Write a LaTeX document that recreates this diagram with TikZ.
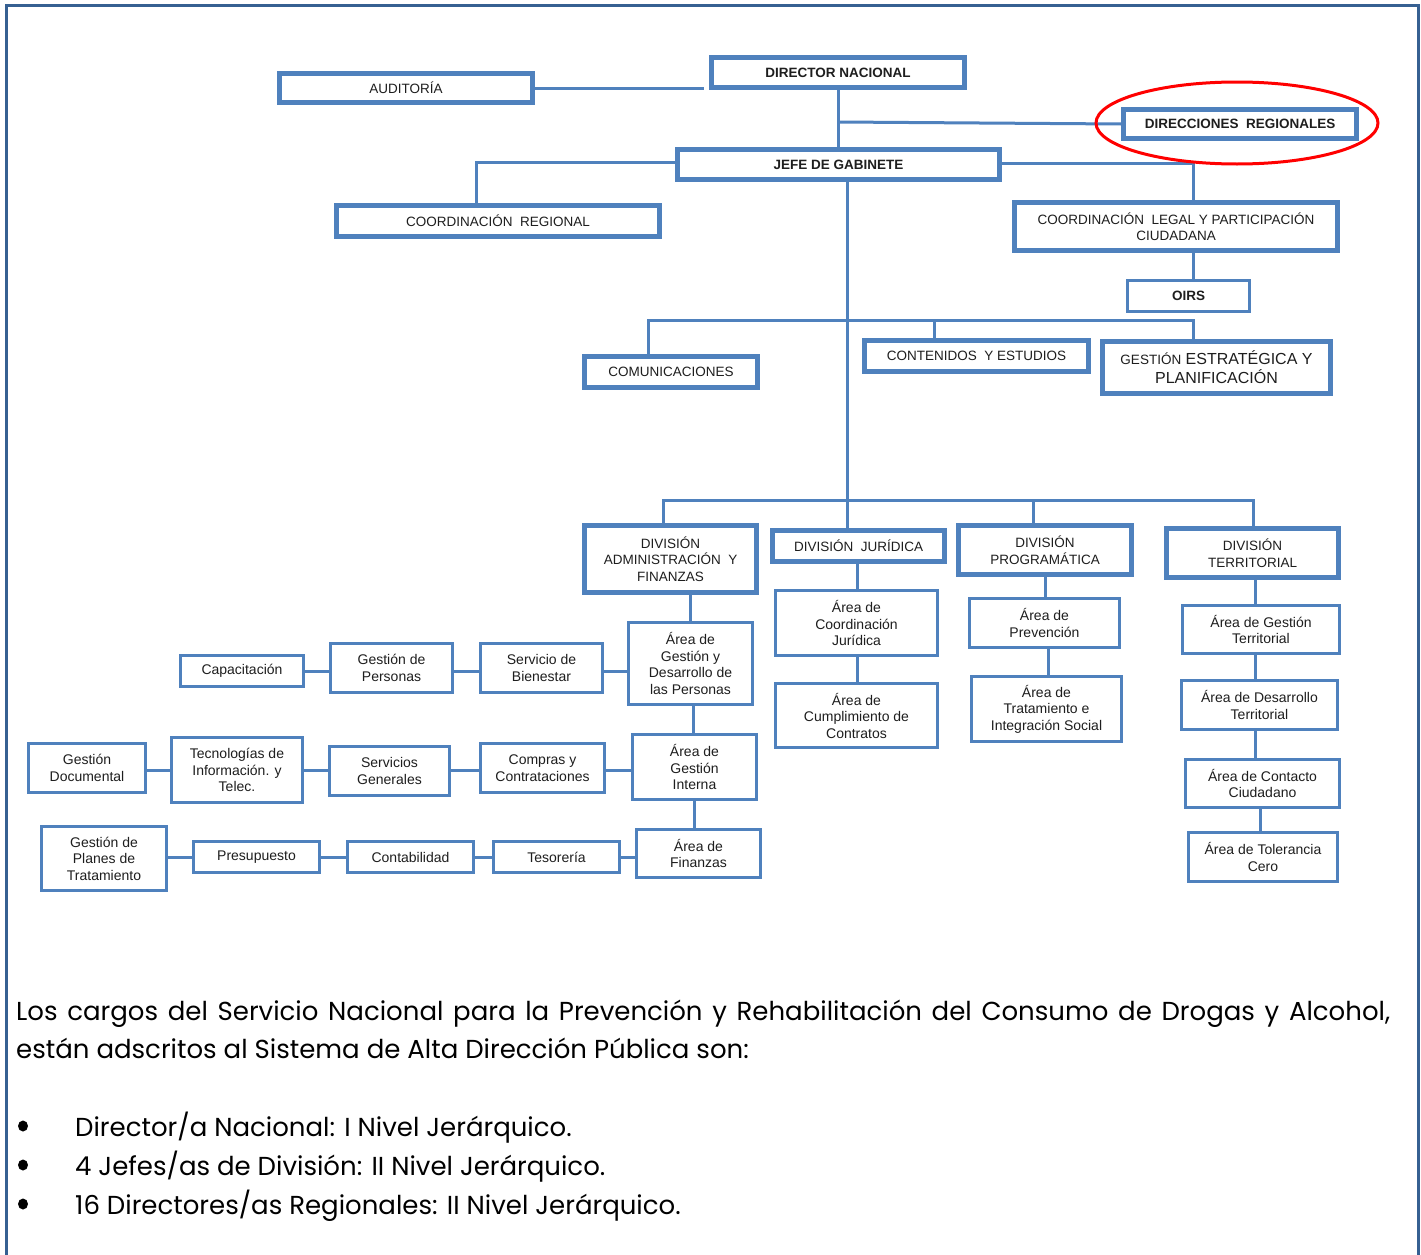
\documentclass[tikz,border=0pt]{standalone}
\usepackage{fontspec}
\setmainfont{Liberation Sans}
\newfontfamily\parafont{Poppins}
\definecolor{boxblue}{HTML}{4F81BD}
\definecolor{framecol}{HTML}{366092}
\definecolor{txt}{HTML}{1E1E1E}
\newcommand\obox[8]{%
  \node[#6, minimum width={(#4-#2-#8)*1pt}, minimum height={(#5-#3-#8)*1pt}] (#1) at ({(#2+#4)/2},{(#3+#5)/2}) {#7};}
\tikzset{
  basebox/.style={draw=boxblue, fill=white, inner sep=0pt, align=center, text=txt},
  tbox/.style={basebox, line width=5pt, font=\fontsize{13.5}{16.5}\selectfont},
  nbox/.style={basebox, line width=3pt, font=\fontsize{14}{16.5}\selectfont},
  bigfont/.style={font=\fontsize{16}{19}\selectfont},
  conn/.style={draw=boxblue, line width=3pt},
  partext/.style={anchor=base west, inner sep=0pt, text=black, font=\parafont\fontsize{26}{30}\selectfont},
}
\begin{document}
\begin{tikzpicture}[x=1pt,y=-1pt]
\useasboundingbox (0,0) rectangle (1421,1255);
\fill[white] (0,0) rectangle (1421,1255);
\draw[framecol, line width=3pt] (6.5,1255) -- (6.5,5.5) -- (1418.5,5.5) -- (1418.5,1255);

% top level
\obox{aud}{277}{71}{535}{105}{tbox}{AUDITORÍA}{5}
\obox{dir}{709}{55}{967}{90}{tbox}{\textbf{DIRECTOR NACIONAL}}{5}
\obox{dr}{1121}{107}{1359}{141}{tbox}{\textbf{DIRECCIONES\ \ REGIONALES}}{5}
\obox{jefe}{675}{147}{1002}{182}{tbox}{\textbf{JEFE DE GABINETE}}{5}
\obox{cr}{334}{203}{662}{239}{tbox}{COORDINACIÓN\ \ REGIONAL}{5}
\obox{cl}{1012}{200}{1340}{253}{tbox}{COORDINACIÓN\ \ LEGAL Y PARTICIPACIÓN\\CIUDADANA}{5}
\obox{oirs}{1126}{279}{1251}{313}{nbox}{\fontsize{13.5}{16.5}\selectfont\textbf{OIRS}}{3}
\obox{com}{582}{354}{760}{390}{tbox}{COMUNICACIONES}{5}
\obox{ce}{862}{338}{1091}{374}{tbox}{CONTENIDOS\ \ Y ESTUDIOS}{5}
\obox{ge}{1100}{339}{1333}{396}{tbox, bigfont}{{\fontsize{13.5}{16}\selectfont GESTIÓN} ESTRATÉGICA Y\\PLANIFICACIÓN}{5}

% divisions
\obox{da}{582}{523}{759}{595}{tbox}{DIVISIÓN\\ADMINISTRACIÓN\ \ Y\\FINANZAS}{5}
\obox{dj}{770}{528}{947}{564}{tbox}{DIVISIÓN\ \ JURÍDICA}{5}
\obox{dp}{956}{523}{1134}{577}{tbox}{DIVISIÓN\\PROGRAMÁTICA}{5}
\obox{dt}{1164}{526}{1341}{580}{tbox}{DIVISIÓN\\TERRITORIAL}{5}

% juridica
\obox{acj}{774}{589}{939}{657}{nbox}{Área de\\Coordinación\\Jurídica}{3}
\obox{acc}{774}{682}{939}{749}{nbox}{Área de\\Cumplimiento de\\Contratos}{3}
% programatica
\obox{apv}{968}{597}{1121}{649}{nbox}{Área de\\Prevención}{3}
\obox{atr}{970}{675}{1123}{743}{nbox}{Área de\\Tratamiento e\\Integración Social}{3}
% territorial
\obox{agt}{1181}{604}{1341}{655}{nbox}{Área de Gestión\\Territorial}{3}
\obox{adt}{1180}{679}{1339}{731}{nbox}{Área de Desarrollo\\Territorial}{3}
\obox{acd}{1184}{758}{1341}{809}{nbox}{Área de Contacto\\Ciudadano}{3}
\obox{atc}{1187}{831}{1339}{883}{nbox}{Área de Tolerancia\\Cero}{3}

% administracion
\obox{agp}{627}{621}{754}{706}{nbox}{Área de\\Gestión y\\Desarrollo de\\las Personas}{3}
\obox{sb}{479}{642}{604}{694}{nbox}{Servicio de\\Bienestar}{3}
\obox{gp}{329}{642}{454}{694}{nbox}{Gestión de\\Personas}{3}
\obox{cap}{179}{654}{305}{688}{nbox}{Capacitación}{3}

\obox{agi}{631}{733}{758}{801}{nbox}{Área de\\Gestión\\Interna}{3}
\obox{cc}{479}{742}{606}{794}{nbox}{Compras y\\Contrataciones}{3}
\obox{sg}{328}{745}{451}{797}{nbox}{Servicios\\Generales}{3}
\obox{tec}{170}{736}{304}{804}{nbox}{Tecnologías de\\Información. y\\Telec.}{3}
\obox{gd}{27}{742}{147}{794}{nbox}{Gestión\\Documental}{3}

\obox{af}{635}{828}{762}{879}{nbox}{Área de\\Finanzas}{3}
\obox{tes}{492}{840}{621}{874}{nbox}{Tesorería}{3}
\obox{con}{346}{840}{475}{874}{nbox}{Contabilidad}{3}
\obox{pre}{192}{840}{321}{874}{nbox}{Presupuesto}{3}
\obox{gpt}{40}{825}{168}{892}{nbox}{Gestión de\\Planes de\\Tratamiento}{3}

% connectors top
\coordinate (audend) at (704,88);
\draw[conn] (aud.east |- audend) -- (audend);
\draw[conn] (dir.south) -- (dir.south |- jefe.north);
\coordinate (drj) at (838,122);
\draw[conn] (drj) -- (dr.west);
\coordinate (crx) at (476,162);
\draw[conn] (jefe.west |- crx) -- (crx) -- (crx |- cr.north);
\coordinate (clx) at (1193,163);
\draw[conn] (jefe.east |- clx) -- (clx) -- (clx |- cl.north);
\draw[conn] (clx |- cl.south) -- (clx |- oirs.north);
% trunk
\coordinate (trunk) at (847,181);
\draw[conn] (trunk |- jefe.south) -- (trunk |- dj.north);
% staff bar
\coordinate (hbl) at (648,320);
\coordinate (hbm) at (934,320);
\coordinate (hbr) at (1193,320);
\draw[conn] (hbl |- com.north) -- (hbl) -- (hbr) -- (hbr |- ge.north);
\draw[conn] (hbm) -- (hbm |- ce.north);
% division bar
\coordinate (hdl) at (663,500);
\coordinate (hdm) at (1033,500);
\coordinate (hdr) at (1253,500);
\draw[conn] (hdl |- da.north) -- (hdl) -- (hdr) -- (hdr |- dt.north);
\draw[conn] (hdm) -- (hdm |- dp.north);
% admin column
\draw[conn] (agp.north |- da.south) -- (agp.north);
\coordinate (c1) at (693,706);
\draw[conn] (c1 |- agp.south) -- (c1 |- agi.north);
\coordinate (c2) at (694,801);
\draw[conn] (c2 |- agi.south) -- (c2 |- af.north);
% row 1
\coordinate (r1) at (0,671);
\draw[conn] (agp.west |- r1) -- (sb.east |- r1);
\draw[conn] (sb.west |- r1) -- (gp.east |- r1);
\draw[conn] (gp.west |- r1) -- (cap.east |- r1);
% row 2
\coordinate (r2) at (0,770);
\draw[conn] (agi.west |- r2) -- (cc.east |- r2);
\draw[conn] (cc.west |- r2) -- (sg.east |- r2);
\draw[conn] (sg.west |- r2) -- (tec.east |- r2);
\draw[conn] (tec.west |- r2) -- (gd.east |- r2);
% row 3
\coordinate (r3) at (0,857);
\draw[conn] (af.west |- r3) -- (tes.east |- r3);
\draw[conn] (tes.west |- r3) -- (con.east |- r3);
\draw[conn] (con.west |- r3) -- (pre.east |- r3);
\draw[conn] (pre.west |- r3) -- (gpt.east |- r3);
% juridica column
\coordinate (cj) at (857,0);
\draw[conn] (cj |- dj.south) -- (cj |- acj.north);
\draw[conn] (cj |- acj.south) -- (cj |- acc.north);
% programatica column
\coordinate (cp1) at (1045,0);
\coordinate (cp2) at (1048,0);
\draw[conn] (cp1 |- dp.south) -- (cp1 |- apv.north);
\draw[conn] (cp2 |- apv.south) -- (cp2 |- atr.north);
% territorial column
\coordinate (ct1) at (1255,0);
\coordinate (ct2) at (1260,0);
\draw[conn] (ct1 |- dt.south) -- (ct1 |- agt.north);
\draw[conn] (ct1 |- agt.south) -- (ct1 |- adt.north);
\draw[conn] (ct1 |- adt.south) -- (ct1 |- acd.north);
\draw[conn] (ct2 |- acd.south) -- (ct2 |- atc.north);

% red ellipse
\draw[red, line width=3pt] (1237,123) ellipse [x radius=141, y radius=41];

% paragraph
\node[partext] (p1) at (16,1020) {\makebox[1374pt][s]{Los cargos del Servicio Nacional para la Prevención y Rehabilitación del Consumo de Drogas y Alcohol,}};
\node[partext] (p2) at (16,1058) {están adscritos al Sistema de Alta Dirección Pública son:};
\node[partext] (b1) at (75,1136) {Director/a Nacional: I Nivel Jerárquico.};
\node[partext] (b2) at (75,1175) {4 Jefes/as de División: II Nivel Jerárquico.};
\node[partext] (b3) at (75,1214) {16 Directores/as Regionales: II Nivel Jerárquico.};
\fill[black] (23,1126) ellipse [x radius=5, y radius=5.5];
\fill[black] (23,1165) ellipse [x radius=5, y radius=5.5];
\fill[black] (23,1204) ellipse [x radius=5, y radius=5.5];
\end{tikzpicture}
\end{document}
